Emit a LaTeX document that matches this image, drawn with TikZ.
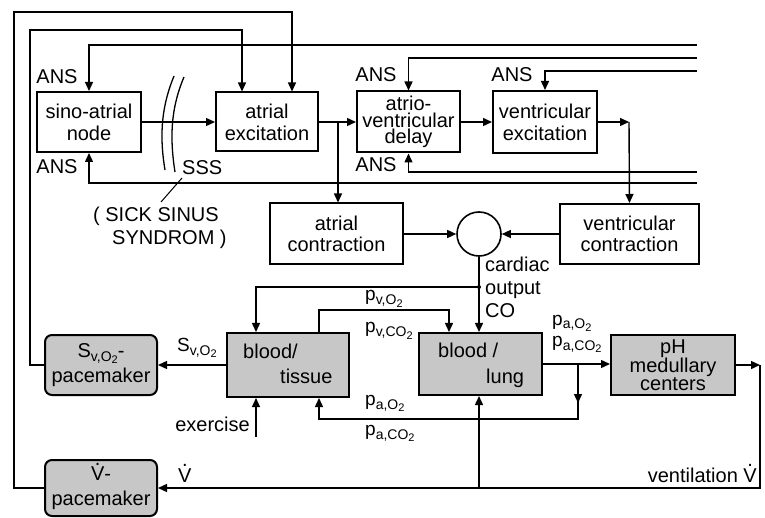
\documentclass[tikz,border=0pt]{standalone}
\usepackage{fontspec}
\setmainfont{Liberation Sans}
\usetikzlibrary{arrows.meta}
\newcommand\Vdot{\mbox{\ooalign{V\cr\hidewidth\smash{\raisebox{0.76em}{.}}\hidewidth\cr}}}
\newcommand\subA[1]{{\fontsize{14}{14}\selectfont\raisebox{-4pt}{#1}}}
\newcommand\subB{{\fontsize{11}{11}\selectfont\raisebox{-2.5pt}{2}}}
\newcommand\pOt[1]{p\subA{#1,O\subB}}
\newcommand\pCOt[1]{p\subA{#1,CO\subB}}
\begin{document}
\begin{tikzpicture}[x=1pt,y=-1pt,
  box/.style={draw, line width=2pt, align=center, inner sep=0pt,
    font=\fontsize{20}{22}\selectfont},
  shaded/.style={box, fill=black!22},
  pace/.style={shaded, rounded corners=7pt},
  ln/.style={line width=1.4pt},
  arr/.style={ln, -{Triangle[length=9pt,width=8pt]}},
  lbl/.style={font=\fontsize{20}{22}\selectfont, inner sep=0pt},
  plbl/.style={font=\fontsize{19}{22}\selectfont, inner sep=0pt, anchor=base west}]
\useasboundingbox (0,0) rectangle (765,518);

% boxes
\node[box, minimum width=104pt, minimum height=60pt] (sa) at (89,122) {sino-atrial\\node};
\node[box, minimum width=102pt, minimum height=59pt] (ae) at (267,122) {atrial\\excitation};
\node[box, minimum width=103pt, minimum height=61pt, font=\fontsize{20}{16.5}\selectfont] (av) at (408.5,122) {atrio-\\ventricular\\delay};
\node[box, minimum width=104pt, minimum height=62pt] (ve) at (545,122) {ventricular\\excitation};
\node[box, minimum width=133pt, minimum height=61pt, font=\fontsize{20}{21}\selectfont] (ac) at (336.5,234) {atrial\\contraction};
\node[draw, line width=1.6pt, circle, minimum size=44pt, inner sep=0pt] (sum) at (479,234) {};
\node[box, minimum width=139pt, minimum height=60pt, font=\fontsize{20}{21}\selectfont] (vc) at (629.5,234) {ventricular\\contraction};
\node[pace, minimum width=112pt, minimum height=60pt, font=\fontsize{20}{25}\selectfont] (svp) at (101,365) {S\subA{v,O\subB}-\\pacemaker};
\node[shaded, minimum width=122pt, minimum height=64pt] (bt) at (288,365) {};
\node[shaded, minimum width=123pt, minimum height=62pt] (bl) at (480.5,364) {};
\node[shaded, minimum width=124pt, minimum height=60pt, font=\fontsize{20}{17.5}\selectfont] (ph) at (673,365) {pH\\medullary\\centers};
\node[pace, minimum width=112pt, minimum height=56pt, font=\fontsize{20}{25}\selectfont] (vp) at (101,488) {\Vdot-\\pacemaker};

% texts inside blood boxes
\node[lbl, anchor=base west] (bt1) at (243,358) {blood/};
\node[lbl, anchor=base west] (bt2) at (280,383) {tissue};
\node[lbl, anchor=base west] (bl1) at (438,357) {blood /};
\node[lbl, anchor=base west] (bl2) at (486,383) {lung};

% ANS labels
\node[lbl] (ans1) at (57,77) {ANS};
\node[lbl] (ans2) at (57,167) {ANS};
\node[lbl] (ans3) at (376,75) {ANS};
\node[lbl] (ans4) at (376,165) {ANS};
\node[lbl] (ans5) at (512,75) {ANS};

% ANS input lines from the right
\coordinate (r1) at (697,45);
\coordinate (r2) at (697,58);
\coordinate (r3) at (697,71);
\coordinate (r4) at (697,172);
\coordinate (r5) at (697,183);
\draw[arr] (r1) -| (sa.north);
\draw[arr] (r2) -| (av.north);
\draw[arr] (r3) -| (ve.north);
\draw[arr] (r4) -| (av.south);
\draw[arr] (r5) -| (sa.south);

% excitation chain
\draw[arr] (sa.east) -- (ae.west);
\draw[arr] (ae.east) -- (av.west);
\draw[arr] (av.east) -- (ve.west);
\coordinate (j1) at (338,122);
\draw[arr] (j1) -- (j1 |- ac.north);
\coordinate (c2) at (629,122);
\draw[arr] (ve.east) -- (c2);
\draw[arr] (c2) -- (vc.north);

% SSS break
\draw[line width=1.3pt] (174,76) .. controls (160,110) and (160,140) .. (165,170);
\draw[line width=1.3pt] (184,77) .. controls (170,110) and (170,140) .. (175,172);
\node[lbl, anchor=base west] (sss) at (182,175) {SSS};
\node[lbl, anchor=base west] (sick1) at (93,222) {( SICK SINUS};
\node[lbl, anchor=base west] (sick2) at (112,245) {SYNDROM )};
\draw[line width=1pt] (161,202) -- (182,178);

% pacemaker feedback to atrial excitation
\coordinate (p1) at (30,30);
\coordinate (p2) at (14,12);
\draw[arr] (svp.west) -| (p1) -| ([xshift=-25pt]ae.north);
\draw[arr] (vp.west) -| (p2) -| ([xshift=25pt]ae.north);

% contraction to cardiac output
\draw[arr] (ac.east) -- (sum.west);
\draw[arr] (vc.west) -- (sum.east);
\draw[arr] (sum.south) -- (sum.south |- bl.north);
\coordinate (j2) at (479,287);
\fill (j2) circle (2pt);
\draw[arr] (j2) -| ([xshift=-32pt]bt.north);
\node[lbl, align=left, anchor=north west, font=\fontsize{20}{23}\selectfont] (co) at (485,257) {cardiac\\output\\CO};

% venous gases
\draw[arr] ([xshift=31pt]bt.north) -- ++(0,-22) -| ([xshift=-31.5pt]bl.north);
\node[plbl] (pv1) at (365,301) {\pOt{v}};
\node[plbl] (pv2) at (365,333) {\pCOt{v}};

% tissue to S pacemaker
\draw[arr] (bt.west) -- (svp.east);
\node[plbl] (svo) at (177,351) {S\subA{v,O\subB}};

% exercise
\coordinate (ex) at (256,437);
\draw[arr] (ex) -- (ex |- bt.south);
\node[lbl, anchor=base east] (exl) at (250,431) {exercise};

% arterial gases
\draw[arr] (bl.east) -- (bl.east -| ph.west);
\coordinate (j3) at (578,364);
\draw[arr] (j3) -- (578,403);
\draw[arr] (j3) -- (578,419) -| ([xshift=31pt]bt.south);
\node[plbl] (pa1) at (552,325) {\pOt{a}};
\node[plbl] (pa2) at (552,346) {\pCOt{a}};
\node[plbl] (pa3) at (365,405) {\pOt{a}};
\node[plbl] (pa4) at (365,435) {\pCOt{a}};

% ventilation
\coordinate (c3) at (760,365);
\draw[arr] (ph.east) -- (c3);
\draw[arr] (c3) |- (vp.east);
\coordinate (j4) at (479,488);
\draw[arr] (j4) -- (j4 |- bl.south);
\node[lbl, anchor=base east] (vent) at (757,482) {ventilation \Vdot};
\node[lbl, anchor=base west] (vdot) at (178,482) {\Vdot};
\end{tikzpicture}
\end{document}
